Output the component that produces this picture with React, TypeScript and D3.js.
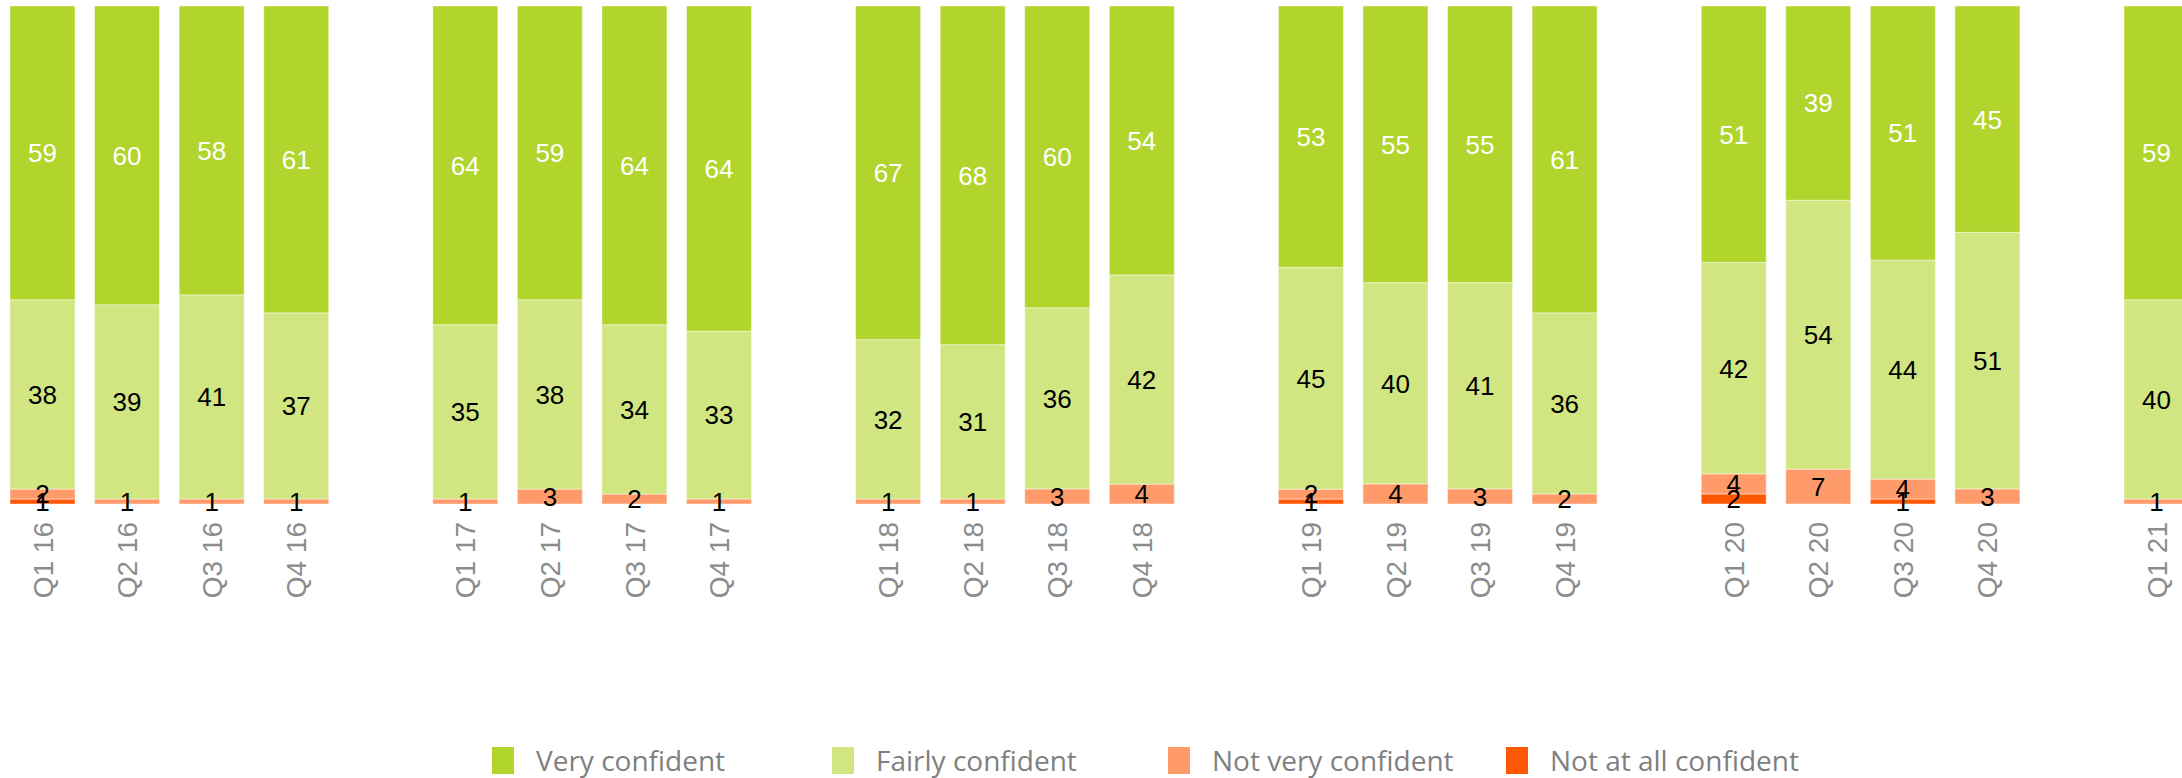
import React from "react";
import * as d3 from "d3";

const categories = ["Q1 16","Q2 16","Q3 16","Q4 16","","Q1 17","Q2 17","Q3 17","Q4 17","","Q1 18","Q2 18","Q3 18","Q4 18","","Q1 19","Q2 19","Q3 19","Q4 19","","Q1 20","Q2 20","Q3 20","Q4 20","","Q1 21"];
const veryConfident = [59,60,58,61,0,64,59,64,64,0,67,68,60,54,0,53,55,55,61,0,51,39,51,45,0,59];
const fairlyConfident = [38,39,41,37,0,35,38,34,33,0,32,31,36,42,0,45,40,41,36,0,42,54,44,51,0,40];
const notVeryConfident = [2,1,1,1,0,1,3,2,1,0,1,1,3,4,0,2,4,3,2,0,4,7,4,3,0,1];
const notAtAllConfident = [1,0,0,0,0,0,0,0,0,0,0,0,0,0,0,1,0,0,0,0,2,0,1,0,0,0];

const seriesNames = ["Not at all confident","Not very confident","Fairly confident","Very confident"];
const seriesValues = [notAtAllConfident, notVeryConfident, fairlyConfident, veryConfident];
const seriesColors = ["#FF5805","#FF9B6B","#D1E681","#B1D52D"];
const labelColors = ["#000000","#000000","#000000","#ffffff"];
const legendOrder = [3,2,1,0];

const W = 2182, H = 778;

export default function App() {
  const keys = categories.map((c, i) => `k${i}`);
  const rows = categories.map((c, i) => {
    const r: any = { key: keys[i], label: c };
    seriesNames.forEach((s, j) => { r[s] = seriesValues[j][i]; });
    return r;
  });
  const stack = d3.stack<any>().keys(seriesNames).offset(d3.stackOffsetExpand);
  const stacked = stack(rows);

  const step = 84.56;
  const pIn = 0.231;
  const pOut = pIn / 2;
  const r0 = 10 - pOut * step;
  const x = d3.scaleBand<string>()
    .domain(keys)
    .range([r0, r0 + step * (keys.length - pIn + 2 * pOut)])
    .paddingInner(pIn)
    .paddingOuter(pOut);
  const y = d3.scaleLinear().domain([0, 1]).range([504, 6]);
  const bw = x.bandwidth();

  const legendX = [492, 832, 1168, 1506];

  return (
    <svg width={W} height={H} style={{ position: "absolute", left: 0, top: 0, display: "block", overflow: "hidden" }}>
      {stacked.map((layer, j) => (
        <g key={seriesNames[j]}>
          {layer.map((d, i) => {
            const v = seriesValues[j][i];
            if (!categories[i] || !v) return null;
            const x0 = x(keys[i])!;
            const yt = y(d[1]);
            const yb = y(d[0]);
            return (
              <rect key={i} x={x0} y={yt} width={bw} height={Math.max(0, yb - yt)}
                fill={seriesColors[j]} stroke="#ffffff" strokeOpacity={0.45} strokeWidth={1} />
            );
          })}
        </g>
      ))}
      {stacked.map((layer, j) => (
        <g key={"l" + seriesNames[j]}>
          {layer.map((d, i) => {
            const v = seriesValues[j][i];
            if (!categories[i] || !v) return null;
            const cx = x(keys[i])! + bw / 2;
            const cy = (y(d[0]) + y(d[1])) / 2;
            return (
              <text key={i} x={cx} y={cy} dy="0.36em" textAnchor="middle"
                fontFamily="'Liberation Sans', Arial, sans-serif" fontSize={26} fill={labelColors[j]}>
                {v}
              </text>
            );
          })}
        </g>
      ))}
      <g>
        {categories.map((c, i) => c ? (
          <text key={i} transform={`translate(${x(keys[i])! + bw / 2},522) rotate(-90)`}
            textAnchor="end" dy="0.36em" fontFamily="'Liberation Sans', Arial, sans-serif"
            fontSize={28} fill="#8c8c8c">{c}</text>
        ) : null)}
      </g>
      <g>
        {legendOrder.map((j, k) => (
          <g key={j} transform={`translate(${legendX[k]},747)`}>
            <rect x={0} y={0} width={22} height={27} fill={seriesColors[j]} />
            <text x={44} y={13.5} dy="0.36em" fontFamily="'Open Sans', sans-serif" fontSize={28} fill="#7f7f7f">{seriesNames[j]}</text>
          </g>
        ))}
      </g>
    </svg>
  );
}
